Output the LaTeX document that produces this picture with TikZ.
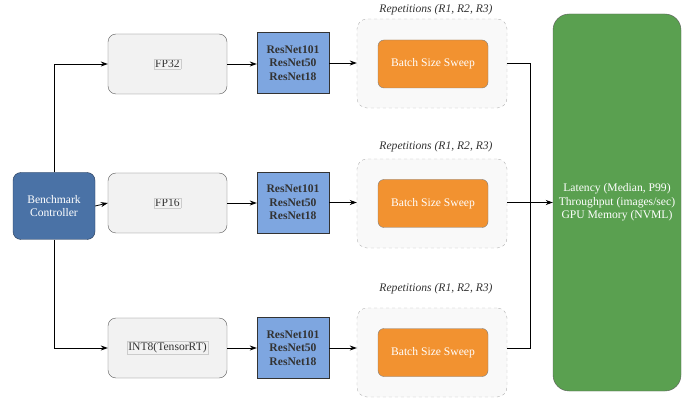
\documentclass[tikz,border=0pt]{standalone}
\usepackage{fontspec}
\setmainfont{Liberation Serif}
\usetikzlibrary{arrows.meta}
\definecolor{CtrlBlue}{RGB}{74,114,166}
\definecolor{CtrlEdge}{RGB}{35,55,85}
\definecolor{ModelBlue}{RGB}{126,166,224}
\definecolor{SweepOrange}{RGB}{242,146,48}
\definecolor{MetricGreen}{RGB}{90,160,80}
\definecolor{DarkGrey}{RGB}{51,51,51}
\definecolor{PaleGrey}{RGB}{242,242,242}

\begin{document}
\begin{tikzpicture}[x=1pt, y=-1pt,
    ctrlbox/.style={draw=CtrlEdge, fill=CtrlBlue, rounded corners=8pt, text=white,
        minimum width=82pt, minimum height=67pt, align=center, font=\fontsize{11.6}{13.5}\selectfont},
    precbox/.style={draw=DarkGrey!80, fill=PaleGrey, rounded corners=8pt, text=DarkGrey,
        minimum width=119pt, minimum height=60pt, font=\fontsize{11.6}{13.5}\selectfont},
    modelbox/.style={draw=DarkGrey, fill=ModelBlue, text=DarkGrey, align=center,
        minimum width=72pt, minimum height=61pt, font=\bfseries\fontsize{11.6}{13.5}\selectfont},
    repbox/.style={draw=gray!60, dashed, fill=gray!5, rounded corners=10pt,
        minimum width=150pt, minimum height=89pt},
    sweepbox/.style={draw=gray, fill=SweepOrange, rounded corners=6pt, text=white,
        minimum width=110pt, minimum height=48pt, font=\fontsize{11.6}{13.5}\selectfont},
    metricbox/.style={draw=DarkGrey!80, fill=MetricGreen, rounded corners=16pt, text=white,
        minimum width=128pt, minimum height=377pt, align=center, font=\fontsize{11.6}{13.5}\selectfont},
    replabel/.style={font=\itshape\fontsize{11.6}{13.5}\selectfont, text=DarkGrey},
    arr/.style={-{Stealth[length=7pt,width=5pt]}, thick, draw=black}]

    \useasboundingbox (0,0) rectangle (697,401);
    \setlength{\fboxsep}{1pt}
    \setlength{\fboxrule}{0.5pt}

    % Controller
    \node[ctrlbox] (ctrl) at (54,206) {Benchmark\\Controller};

    % Precision branches
    \node[precbox] (fp32) at (167.5,64) {\fcolorbox{gray!40}{PaleGrey}{FP32}};
    \node[precbox] (fp16) at (167.5,203) {\fcolorbox{gray!40}{PaleGrey}{FP16}};
    \node[precbox] (int8) at (167.5,348) {\fcolorbox{gray!40}{PaleGrey}{INT8(TensorRT)}};

    % Models
    \node[modelbox] (mod32) at (293,63) {ResNet101\\ResNet50\\ResNet18};
    \node[modelbox] (mod16) at (293,202.5) {ResNet101\\ResNet50\\ResNet18};
    \node[modelbox] (mod8) at (293,348) {ResNet101\\ResNet50\\ResNet18};

    % Repetitions
    \node[repbox] (rep32) at (432,63.5) {};
    \node[repbox] (rep16) at (432,203.5) {};
    \node[repbox] (rep8) at (432,352.5) {};
    \node[replabel] (lab32) at (436,10) {Repetitions (R1, R2, R3)};
    \node[replabel] (lab16) at (436,147) {Repetitions (R1, R2, R3)};
    \node[replabel] (lab8) at (436,289) {Repetitions (R1, R2, R3)};

    \node[sweepbox] (sw32) at (433,64) {Batch Size Sweep};
    \node[sweepbox] (sw16) at (433,203.5) {Batch Size Sweep};
    \node[sweepbox] (sw8) at (433,352.5) {Batch Size Sweep};

    % Metrics
    \node[metricbox] (metrics) at (617,202.5) {Latency (Median, P99)\\Throughput (images/sec)\\GPU Memory (NVML)};

    % Connectors
    \draw[arr] (ctrl.north) |- (fp32.west);
    \draw[arr] (ctrl.east) -- (fp16.west);
    \draw[arr] (ctrl.south) |- (int8.west);

    \draw[arr] (fp32) -- (mod32.west |- fp32);
    \draw[arr] (fp16) -- (mod16.west |- fp16);
    \draw[arr] (int8) -- (mod8.west |- int8);

    \draw[arr] (mod32) -- (rep32.west |- mod32);
    \draw[arr] (mod16) -- (rep16.west |- mod16);
    \draw[arr] (mod8) -- (rep8.west |- mod8);

    \coordinate (join) at (530,202.5);
    \draw[thick] (rep32.east) -| (join);
    \draw[thick] (rep8.east |- int8) -| (join);
    \draw[arr] (rep16.east |- metrics) -- (metrics.west);
\end{tikzpicture}
\end{document}
